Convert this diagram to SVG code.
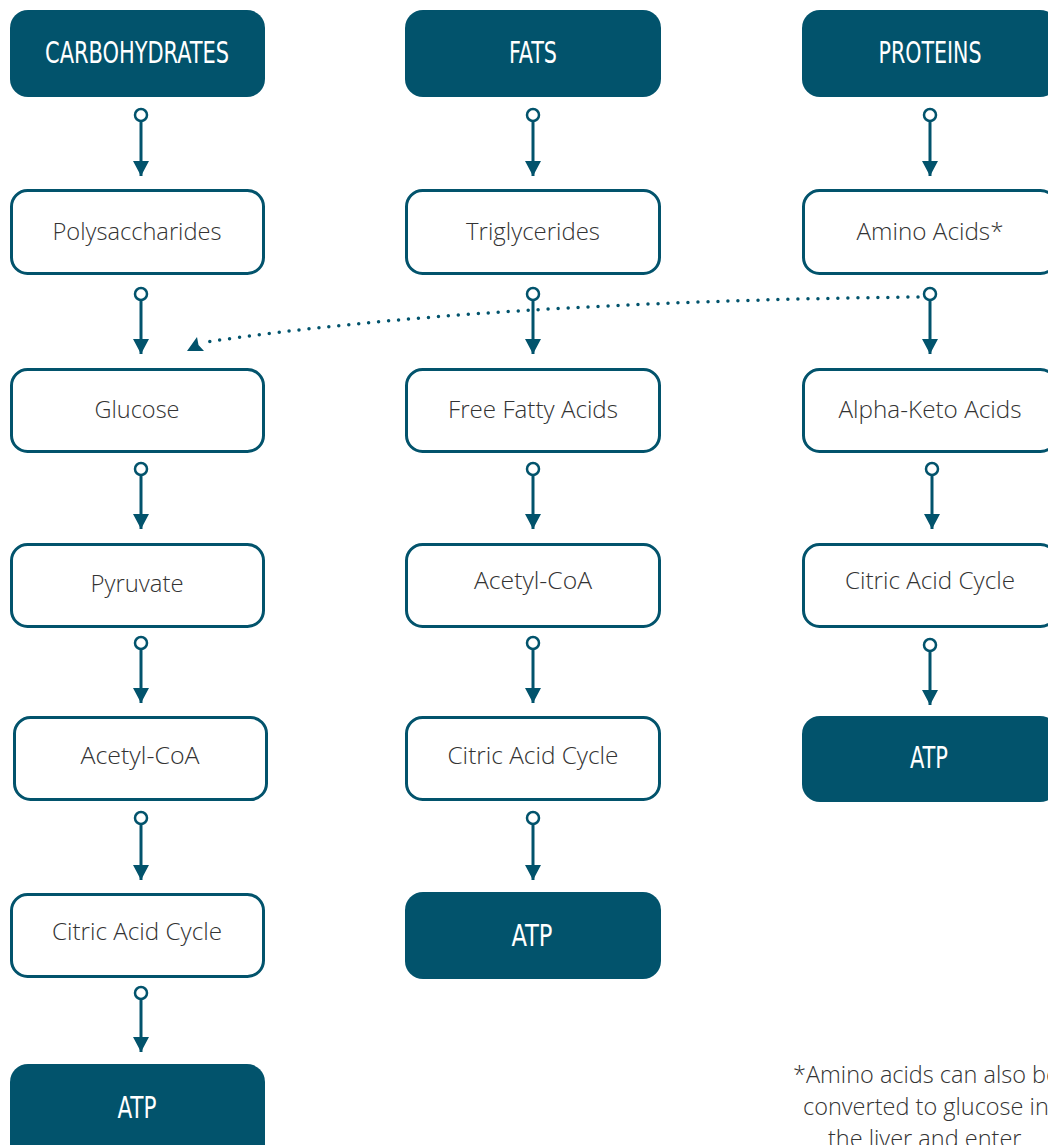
<svg xmlns="http://www.w3.org/2000/svg" width="1048" height="1145" viewBox="0 0 1048 1145">
<style>
.hd{fill:#02536C}
.bx{fill:#fff;stroke:#02536C;stroke-width:3}
.ht{fill:#fff;font-family:"Liberation Sans Narrow","DejaVu Sans Condensed","Roboto",sans-serif;font-size:31px;text-anchor:middle}
.bt{fill:#333;font-family:"Open Sans","Noto Sans",sans-serif;font-weight:300;font-size:23px;text-anchor:middle}
.fn{fill:#333;font-family:"Open Sans","Noto Sans",sans-serif;font-weight:300;font-size:23.5px}
.ln{stroke:#02536C;stroke-width:3;fill:none}
.dot{fill:#fff;stroke:#02536C;stroke-width:2.5}
.ah{fill:#02536C}
</style>
<defs>
<marker id="arr" markerUnits="userSpaceOnUse" markerWidth="18" markerHeight="18" refX="15" refY="8" orient="auto">
<path d="M0,0 L15,8 L0,16 Z" fill="#02536C"/>
</marker>
</defs>
<rect width="1048" height="1145" fill="#fff"/>

<g id="connectors">
<g>
<circle class="dot" cx="141" cy="115" r="6"/><line class="ln" x1="141" y1="121" x2="141" y2="176" marker-end="url(#arr)"/>
<circle class="dot" cx="141" cy="294" r="6"/><line class="ln" x1="141" y1="300" x2="141" y2="354" marker-end="url(#arr)"/>
<circle class="dot" cx="141" cy="469" r="6"/><line class="ln" x1="141" y1="475" x2="141" y2="529" marker-end="url(#arr)"/>
<circle class="dot" cx="141" cy="643" r="6"/><line class="ln" x1="141" y1="649" x2="141" y2="703" marker-end="url(#arr)"/>
<circle class="dot" cx="141" cy="818" r="6"/><line class="ln" x1="141" y1="824" x2="141" y2="880" marker-end="url(#arr)"/>
<circle class="dot" cx="141" cy="993" r="6"/><line class="ln" x1="141" y1="999" x2="141" y2="1052" marker-end="url(#arr)"/>
</g>
<g>
<circle class="dot" cx="533" cy="115" r="6"/><line class="ln" x1="533" y1="121" x2="533" y2="176" marker-end="url(#arr)"/>
<circle class="dot" cx="533" cy="294" r="6"/><line class="ln" x1="533" y1="300" x2="533" y2="354" marker-end="url(#arr)"/>
<circle class="dot" cx="533" cy="469" r="6"/><line class="ln" x1="533" y1="475" x2="533" y2="529" marker-end="url(#arr)"/>
<circle class="dot" cx="533" cy="643" r="6"/><line class="ln" x1="533" y1="649" x2="533" y2="703" marker-end="url(#arr)"/>
<circle class="dot" cx="533" cy="818" r="6"/><line class="ln" x1="533" y1="824" x2="533" y2="880" marker-end="url(#arr)"/>
</g>
<g>
<circle class="dot" cx="930" cy="115" r="6"/><line class="ln" x1="930" y1="121" x2="930" y2="176" marker-end="url(#arr)"/>
<path d="M918,297 Q480,302 206,342" fill="none" stroke="#02536C" stroke-width="3.5" stroke-linecap="round" stroke-dasharray="0 10"/>
<polygon class="ah" points="187,351 197,337 198.5,345 204,351"/>
<circle class="dot" cx="930" cy="294" r="6"/><line class="ln" x1="930" y1="300" x2="930" y2="354" marker-end="url(#arr)"/>
<circle class="dot" cx="932" cy="469" r="6"/><line class="ln" x1="932" y1="475" x2="932" y2="529" marker-end="url(#arr)"/>
<circle class="dot" cx="930" cy="645" r="6"/><line class="ln" x1="930" y1="651" x2="930" y2="705" marker-end="url(#arr)"/>
</g>
</g>

<g id="carbohydrates"><rect class="hd" x="10" y="10" width="255" height="87" rx="18"/><text class="ht" x="137" y="63" textLength="184" lengthAdjust="spacingAndGlyphs">CARBOHYDRATES</text></g>
<g id="polysaccharides"><rect class="bx" x="11.5" y="190.5" width="252" height="83" rx="16"/><text class="bt" x="137" y="240" textLength="169" lengthAdjust="spacingAndGlyphs">Polysaccharides</text></g>
<g id="glucose"><rect class="bx" x="11.5" y="369.5" width="252" height="82" rx="16"/><text class="bt" x="137" y="418" textLength="85" lengthAdjust="spacingAndGlyphs">Glucose</text></g>
<g id="pyruvate"><rect class="bx" x="11.5" y="544.5" width="252" height="82" rx="16"/><text class="bt" x="137" y="592" textLength="93" lengthAdjust="spacingAndGlyphs">Pyruvate</text></g>
<g id="acetyl-coa-1"><rect class="bx" x="14.5" y="717.5" width="252" height="82" rx="16"/><text class="bt" x="140" y="764" textLength="119" lengthAdjust="spacingAndGlyphs">Acetyl-CoA</text></g>
<g id="citric-1"><rect class="bx" x="11.5" y="894.5" width="252" height="82" rx="16"/><text class="bt" x="137" y="940" textLength="170" lengthAdjust="spacingAndGlyphs">Citric Acid Cycle</text></g>
<g id="atp-1"><rect class="hd" x="10" y="1064" width="255" height="100" rx="18"/><text class="ht" x="137" y="1118" textLength="39" lengthAdjust="spacingAndGlyphs">ATP</text></g>

<g id="fats"><rect class="hd" x="405" y="10" width="256" height="87" rx="18"/><text class="ht" x="533" y="63" textLength="48" lengthAdjust="spacingAndGlyphs">FATS</text></g>
<g id="triglycerides"><rect class="bx" x="406.5" y="190.5" width="253" height="83" rx="16"/><text class="bt" x="533" y="240" textLength="134" lengthAdjust="spacingAndGlyphs">Triglycerides</text></g>
<g id="free-fatty-acids"><rect class="bx" x="406.5" y="369.5" width="253" height="82" rx="16"/><text class="bt" x="533" y="418" textLength="170" lengthAdjust="spacingAndGlyphs">Free Fatty Acids</text></g>
<g id="acetyl-coa-2"><rect class="bx" x="406.5" y="544.5" width="253" height="82" rx="16"/><text class="bt" x="533" y="589" textLength="118" lengthAdjust="spacingAndGlyphs">Acetyl-CoA</text></g>
<g id="citric-2"><rect class="bx" x="406.5" y="717.5" width="253" height="82" rx="16"/><text class="bt" x="533" y="764" textLength="171" lengthAdjust="spacingAndGlyphs">Citric Acid Cycle</text></g>
<g id="atp-2"><rect class="hd" x="405" y="892" width="256" height="87" rx="18"/><text class="ht" x="532" y="946" textLength="41" lengthAdjust="spacingAndGlyphs">ATP</text></g>

<g id="proteins"><rect class="hd" x="802" y="10" width="256" height="87" rx="18"/><text class="ht" x="930" y="63" textLength="103" lengthAdjust="spacingAndGlyphs">PROTEINS</text></g>
<g id="amino-acids"><rect class="bx" x="803.5" y="190.5" width="253" height="83" rx="16"/><text class="bt" x="930" y="240" textLength="147" lengthAdjust="spacingAndGlyphs">Amino Acids*</text></g>
<g id="alpha-keto-acids"><rect class="bx" x="803.5" y="369.5" width="253" height="82" rx="16"/><text class="bt" x="930" y="418" textLength="183" lengthAdjust="spacingAndGlyphs">Alpha-Keto Acids</text></g>
<g id="citric-3"><rect class="bx" x="803.5" y="544.5" width="253" height="82" rx="16"/><text class="bt" x="930" y="589" textLength="170" lengthAdjust="spacingAndGlyphs">Citric Acid Cycle</text></g>
<g id="atp-3"><rect class="hd" x="802" y="716" width="256" height="86" rx="18"/><text class="ht" x="929" y="768" textLength="38" lengthAdjust="spacingAndGlyphs">ATP</text></g>

<g id="footnote">
<text class="fn" x="793" y="1083">*Amino acids can also be</text>
<text class="fn" x="803" y="1115">converted to glucose in</text>
<text class="fn" x="828" y="1147">the liver and enter</text>
</g>
</svg>
